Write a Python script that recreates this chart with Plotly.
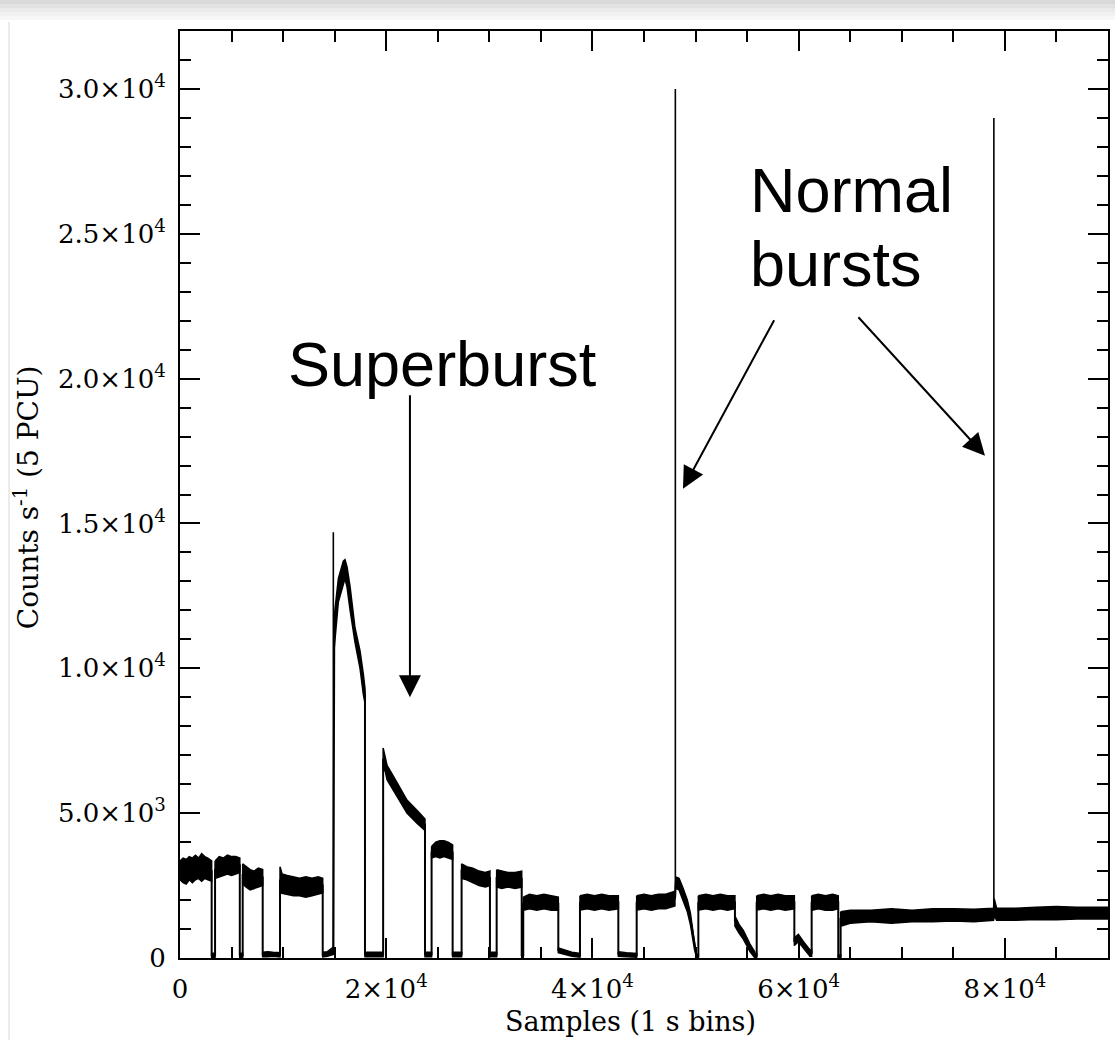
import plotly.graph_objects as go

# ---------------------------------------------------------------------------
# RXTE/PCA light curve, 1 s bins, 5 PCUs.
# The curve is stored as consecutive pieces (on-source intervals, declines and
# the near-zero stretches between them).  For every piece: knot times (s) and
# the lower / upper edge of the 1 s noise band (counts/s).
# ---------------------------------------------------------------------------
piece_t = [
    [0, 300, 600, 900, 1200, 1500, 1800, 2100, 2400, 2700, 3070],
    [3070, 3400],
    [3400, 3800, 4200, 4600, 5000, 5400, 5800],
    [5800, 6080],
    [6080, 6400, 6800, 7200, 7600, 8020],
    [8020, 8500, 9000, 9700],
    [9700, 9900, 10400, 11000, 11600, 12200, 12800, 13400, 13840],
    [13840, 14300, 14870],
    [14960, 15360, 15840, 16000, 16200, 16500, 16970, 17460, 17780, 17940],
    [17940, 18800, 19700],
    [19700, 19900, 20080, 21050, 22010, 22980, 23760],
    [23760, 24400],
    [24400, 24800, 25200, 25600, 26000, 26440],
    [26440, 27310],
    [27310, 27800, 28400, 29000, 29600, 30060],
    [30060, 30710],
    [30710, 31200, 31800, 32500, 33140],
    [33140, 33290],
    [33290, 33900, 34600, 35300, 36000, 36690],
    [36690, 37300, 38000, 38790],
    [38790, 39500, 40200, 40900, 41600, 42510],
    [42510, 43300, 44290],
    [44290, 45000, 45700, 46400, 47100, 47600, 48000],
    [48080, 48400, 48800, 49200, 49500, 49900, 50100],
    [50100, 50270],
    [50270, 51000, 51700, 52400, 53100, 53820],
    [53820, 54230, 54630, 55280, 55760],
    [55760, 55930],
    [55930, 56600, 57300, 58000, 58700, 59580],
    [59580, 59970, 60450, 61100],
    [61100, 61260],
    [61260, 61900, 62600, 63300, 63840],
    [63840, 64070],
    [64070, 65000, 67000, 69000, 71000, 73000, 75000, 77000, 78900, 78960, 79200,
     81000, 83000, 85000, 87000, 90000],
]
piece_lo = [
    [2700, 2600, 2550, 2700, 2600, 2700, 2750, 2650, 2750, 2700, 2650],
    [30, 30],
    [2750, 2800, 2850, 2900, 2850, 2900, 2950],
    [30, 30],
    [2550, 2450, 2350, 2400, 2450, 2500],
    [40, 40, 60, 40],
    [2250, 2250, 2200, 2150, 2150, 2100, 2150, 2200, 2250],
    [40, 60, 120],
    [10700, 12300, 12900, 13100, 12800, 12000, 10900, 10000, 9100, 8800],
    [40, 40, 40],
    [6500, 6450, 6150, 5550, 5000, 4650, 4400],
    [40, 40],
    [3450, 3500, 3450, 3500, 3450, 3400],
    [40, 40],
    [2750, 2700, 2600, 2500, 2450, 2500],
    [40, 40],
    [2450, 2400, 2450, 2400, 2450],
    [30, 30],
    [1650, 1700, 1650, 1700, 1650, 1650],
    [180, 120, 60, 30],
    [1650, 1700, 1650, 1700, 1650, 1700],
    [60, 40, 30],
    [1650, 1700, 1650, 1700, 1700, 1750, 1800],
    [2400, 2350, 2000, 1600, 1150, 300, 0],
    [0, 0],
    [1650, 1700, 1650, 1700, 1650, 1700],
    [1100, 850, 650, 220, 0],
    [0, 0],
    [1650, 1700, 1650, 1700, 1650, 1700],
    [430, 560, 330, 60],
    [60, 60],
    [1650, 1700, 1650, 1650, 1700],
    [0, 0],
    [1100, 1200, 1250, 1200, 1250, 1250, 1280, 1250, 1300, 1450, 1300,
     1300, 1330, 1320, 1350, 1350],
]
piece_hi = [
    [3350, 3450, 3400, 3500, 3450, 3550, 3450, 3600, 3500, 3450, 3350],
    [160, 160],
    [3350, 3500, 3450, 3550, 3500, 3500, 3450],
    [160, 160],
    [3250, 3150, 3050, 3000, 3100, 3050],
    [200, 220, 200, 180],
    [3150, 2900, 2850, 2800, 2750, 2800, 2750, 2800, 2750],
    [200, 220, 380],
    [11800, 13100, 13700, 13750, 13500, 12800, 11400, 10600, 9800, 9300],
    [200, 200, 200],
    [7250, 6950, 6650, 6050, 5450, 5100, 4800],
    [200, 200],
    [3850, 4000, 4050, 4050, 4000, 3900],
    [200, 200],
    [3250, 3150, 3100, 3000, 2950, 3000],
    [200, 200],
    [3050, 3000, 2950, 2950, 3000],
    [160, 160],
    [2100, 2200, 2150, 2200, 2150, 2100],
    [350, 280, 200, 160],
    [2150, 2200, 2150, 2200, 2150, 2150],
    [220, 180, 160],
    [2150, 2200, 2150, 2200, 2200, 2250, 2300],
    [2800, 2750, 2400, 2000, 1550, 600, 150],
    [120, 120],
    [2150, 2200, 2150, 2200, 2150, 2150],
    [1450, 1150, 950, 480, 200],
    [150, 150],
    [2150, 2200, 2150, 2200, 2150, 2150],
    [700, 820, 570, 280],
    [280, 280],
    [2150, 2200, 2150, 2200, 2150],
    [100, 100],
    [1600, 1650, 1650, 1700, 1650, 1700, 1700, 1680, 1720, 2050, 1720,
     1720, 1750, 1780, 1750, 1750],
]

# Single-bin burst peaks (superburst precursor and the two normal bursts)
burst_t = [14870, 48040, 78930]
burst_base = [300, 2100, 1500]
burst_peak = [14700, 30000, 29000]

# Axis ticks
x_tickvals = [0, 20000, 40000, 60000, 80000]
x_ticktext = ["0", "2×10<sup>4</sup>", "4×10<sup>4</sup>", "6×10<sup>4</sup>", "8×10<sup>4</sup>"]
y_tickvals = [0, 5000, 10000, 15000, 20000, 25000, 30000]
y_ticktext = ["0", "5.0×10<sup>3</sup>", "1.0×10<sup>4</sup>", "1.5×10<sup>4</sup>",
              "2.0×10<sup>4</sup>", "2.5×10<sup>4</sup>", "3.0×10<sup>4</sup>"]

SERIF = "DejaVu Serif"
SANS = "Liberation Sans, Arial, sans-serif"
INK = "#000000"

fig = go.Figure()

# Noise band of every piece as a closed polygon
band_x, band_y = [], []
for t, lo, hi in zip(piece_t, piece_lo, piece_hi):
    band_x += t + t[::-1] + [t[0], None]
    band_y += hi + lo[::-1] + [hi[0], None]
fig.add_trace(go.Scatter(
    x=band_x, y=band_y, mode="lines", fill="toself", fillcolor=INK,
    line=dict(color=INK, width=1.5), hoverinfo="skip", showlegend=False,
))

# Continuous curve through the band centres (gives the on/off edges)
curve_x, curve_y = [], []
for t, lo, hi in zip(piece_t, piece_lo, piece_hi):
    curve_x += t
    curve_y += [(a + b) / 2 for a, b in zip(lo, hi)]
fig.add_trace(go.Scatter(
    x=curve_x, y=curve_y, mode="lines", line=dict(color=INK, width=2),
    hoverinfo="skip", showlegend=False,
))

# Burst peaks
spike_x, spike_y = [], []
for t, b, p in zip(burst_t, burst_base, burst_peak):
    spike_x += [t, t, None]
    spike_y += [b, p, None]
fig.add_trace(go.Scatter(
    x=spike_x, y=spike_y, mode="lines", line=dict(color=INK, width=1.6),
    hoverinfo="skip", showlegend=False,
))

axis_common = dict(
    showline=True, linecolor=INK, linewidth=2, mirror="ticks",
    ticks="inside", ticklen=20, tickwidth=2, tickcolor=INK,
    showgrid=False, zeroline=False,
    tickfont=dict(family=SERIF, size=26, color=INK),
)
fig.update_xaxes(
    range=[0, 90000], tickmode="array", tickvals=x_tickvals, ticktext=x_ticktext,
    minor=dict(ticks="inside", ticklen=11, tickwidth=1.6, tickcolor=INK, dtick=5000,
               tick0=0, showgrid=False),
    ticklabelstandoff=7,
    **axis_common,
)
fig.update_yaxes(
    range=[0, 32000], tickmode="array", tickvals=y_tickvals, ticktext=y_ticktext,
    minor=dict(ticks="inside", ticklen=11, tickwidth=1.6, tickcolor=INK, dtick=1000,
               tick0=0, showgrid=False),
    ticklabelstandoff=7,
    **axis_common,
)

annotations = [
    # axis titles
    dict(text="Samples (1 s bins)", xref="paper", yref="paper", x=0.485, y=-0.068,
         showarrow=False, font=dict(family=SERIF, size=27, color=INK),
         xanchor="center", yanchor="middle"),
    dict(text="Counts s<sup>-1</sup> (5 PCU)", xref="paper", yref="paper", x=-0.165, y=0.497,
         textangle=-90, showarrow=False, font=dict(family=SERIF, size=28, color=INK),
         xanchor="center", yanchor="middle"),
    # labels
    dict(text="Superburst", x=25500, y=20500, xref="x", yref="y", showarrow=False,
         font=dict(family=SANS, size=63, color=INK), xanchor="center", yanchor="middle"),
    dict(text="Normal", x=55090, y=26500, xref="x", yref="y", showarrow=False,
         font=dict(family=SANS, size=63, color=INK), xanchor="left", yanchor="middle"),
    dict(text="bursts", x=55090, y=23950, xref="x", yref="y", showarrow=False,
         font=dict(family=SANS, size=63, color=INK), xanchor="left", yanchor="middle"),
]
# arrows: (tip_x, tip_y, tail_x, tail_y) in data units
arrows = [
    (22300, 9000, 22300, 19480),
    (48780, 16200, 57700, 22070),
    (78070, 17340, 65660, 22170),
]
for tx, ty, sx, sy in arrows:
    annotations.append(dict(
        x=tx, y=ty, ax=sx, ay=sy, xref="x", yref="y", axref="x", ayref="y",
        text="", showarrow=True, arrowhead=2, arrowsize=2.2, arrowwidth=2,
        arrowcolor=INK, standoff=0,
    ))

# window chrome: soft grey shadow along the top edge and a faint left rule
shapes = []
for i, c in enumerate(["#d9d9d9", "#e2e2e2", "#eaeaea", "#f1f1f1", "#f7f7f7"]):
    y0 = (958 - (4 * i + 4)) / 927
    y1 = (958 - 4 * i) / 927
    shapes.append(dict(type="rect", xref="paper", yref="paper",
                       x0=-0.2, x1=1.01, y0=y0, y1=y1,
                       fillcolor=c, line=dict(width=0), layer="below"))
shapes.append(dict(type="line", xref="paper", yref="paper",
                   x0=(9 - 180) / 928, x1=(9 - 180) / 928,
                   y0=(958 - 1040) / 927, y1=(958 - 22) / 927,
                   line=dict(color="#ececec", width=2), layer="below"))

fig.update_layout(
    width=1115, height=1040,
    margin=dict(l=180, r=7, t=31, b=82, autoexpand=False),
    paper_bgcolor="white", plot_bgcolor="white",
    annotations=annotations, shapes=shapes,
    showlegend=False,
)

fig.write_html("out.html")
